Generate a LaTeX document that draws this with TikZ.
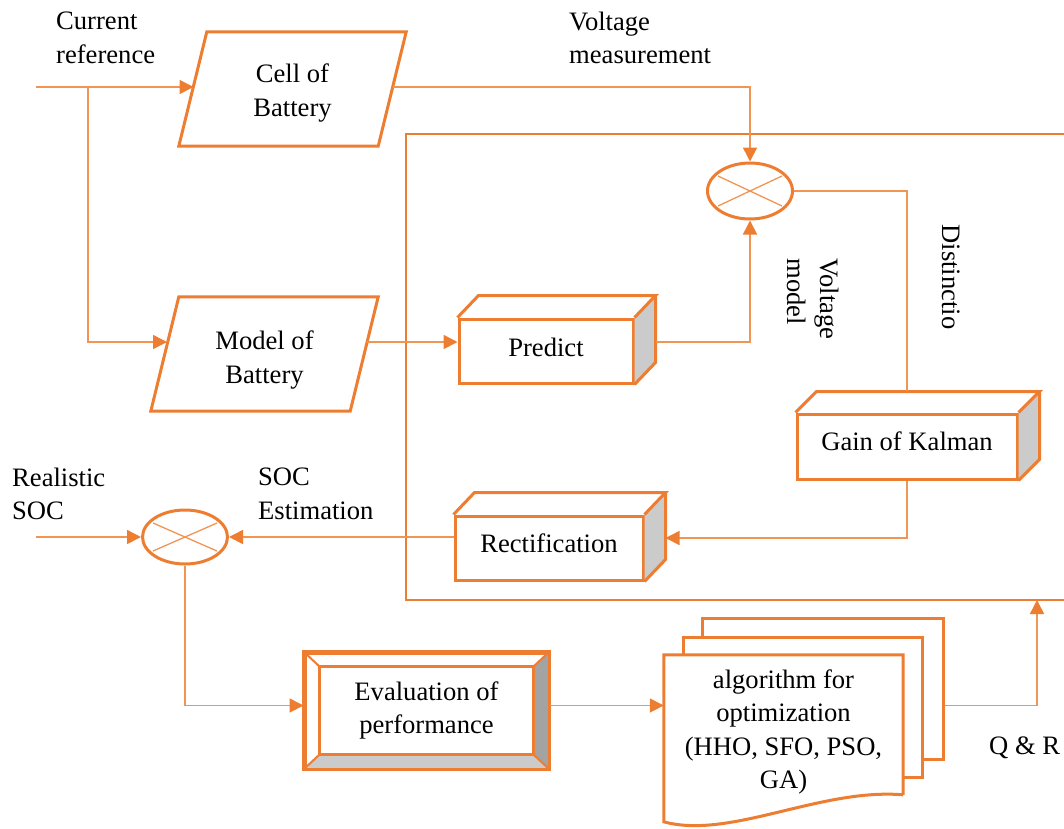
\documentclass[tikz,border=0pt]{standalone}
\usepackage{fontspec}
\setmainfont{Liberation Serif}
\usetikzlibrary{arrows.meta,calc,shapes.geometric}
\definecolor{edgeor}{HTML}{ED7D31}
\definecolor{lineor}{HTML}{F19555}
\definecolor{sidegray}{HTML}{CBCBCB}
\definecolor{bevelgray}{HTML}{A3A3A3}
% 3-D box: top and right faces added to a front-face node
\newcommand\boxfaces[3]{%
  \fill[sidegray] (#1.north east) -- ++(#2,-#3) -- ($(#1.south east)+(#2,-#3)$) -- (#1.south east) -- cycle;
  \draw[edge] (#1.north west) -- ++(#2,-#3) -- ($(#1.north east)+(#2,-#3)$) -- (#1.north east);
  \draw[edge] ($(#1.north east)+(#2,-#3)$) -- ($(#1.south east)+(#2,-#3)$) -- (#1.south east);
}
% slanted input/output block drawn over a plain node
\newcommand\slantbox[2]{%
  \draw[edge] ($(#1.north west)+(#2,0)$) -- (#1.north east) -- ($(#1.south east)+(-#2,0)$) -- (#1.south west) -- cycle;
}
% shift text vertically without changing the box it occupies
\newcommand\nudge[2]{\raisebox{#1}[\height][\depth]{#2}}
\newcommand\twolines[3]{\nudge{#1}{\begin{tabular}{@{}c@{}}#2\\#3\end{tabular}}}
\begin{document}
\begin{tikzpicture}[x=1pt,y=-1pt,
  txt/.style={font=\fontsize{26.6}{33.5}\selectfont, align=center, inner sep=0pt},
  lbl/.style={txt, align=left},
  edge/.style={draw=edgeor, line width=3pt, line join=miter},
  thinedge/.style={draw=edgeor, line width=1.6pt},
  wire/.style={draw=lineor, line width=1.6pt},
  arr/.style={wire, -{Triangle[length=14pt,width=14pt,color=edgeor]}},
  front/.style={txt, edge, fill=white},
  junction/.style={edge, ellipse, inner sep=0pt, fill=white}]
\useasboundingbox (0,0) rectangle (1064,828);

% outer estimator frame (runs past the right border)
\coordinate (frameTR) at (1064,134);
\coordinate (frameTL) at (406,134);
\coordinate (frameBL) at (406,600);
\coordinate (frameBR) at (1064,600);
\draw[thinedge] (frameTR) -- (frameTL) -- (frameBL) -- (frameBR);

% battery blocks
\node[txt, minimum width=227, minimum height=114] (cell) at (292.5,89) {\twolines{-4pt}{Cell of}{Battery}};
\slantbox{cell}{28}
\node[txt, minimum width=227, minimum height=114] (model) at (264.5,354) {\twolines{-6pt}{Model of}{Battery}};
\slantbox{model}{28}

% 3-D boxes
\node[front, minimum width=174, minimum height=64] (predict) at (546,351) {\nudge{4pt}{Predict}};
\boxfaces{predict}{21}{22}
\node[front, minimum width=220, minimum height=65] (gain) at (907,446.5) {\nudge{5pt}{Gain of Kalman}};
\boxfaces{gain}{21}{21}
\node[front, minimum width=188, minimum height=64] (rect) at (549,548) {\nudge{5pt}{Rectification}};
\boxfaces{rect}{21}{22}

% summing junctions
\node[junction, minimum width=85, minimum height=56] (sumv) at (750,191) {};
\draw[wire, line width=1.3pt] ($(sumv)+(-32,-15)$) -- ($(sumv)+(32,15)$);
\draw[wire, line width=1.3pt] ($(sumv)+(-32,15)$) -- ($(sumv)+(32,-15)$);
\node[junction, minimum width=85, minimum height=54] (sums) at (185,537) {};
\draw[wire, line width=1.3pt] ($(sums)+(-32,-14)$) -- ($(sums)+(32,14)$);
\draw[wire, line width=1.3pt] ($(sums)+(-32,14)$) -- ($(sums)+(32,-14)$);

% bevelled evaluation block
\node[txt, edge, minimum width=243, minimum height=115] (eval) at (426.5,710.5) {Evaluation of\\performance};
\coordinate (inNW) at ($(eval.north west)+(16,15)$);
\coordinate (inNE) at ($(eval.north east)+(-16,15)$);
\coordinate (inSW) at ($(eval.south west)+(16,-15)$);
\coordinate (inSE) at ($(eval.south east)+(-16,-15)$);
\fill[bevelgray] (eval.north east) -- (eval.south east) -- (inSE) -- (inNE) -- cycle;
\fill[sidegray] (eval.south west) -- (eval.south east) -- (inSE) -- (inSW) -- cycle;
\draw[edge, line width=2pt] (eval.north west) -- (inNW) (eval.north east) -- (inNE)
  (eval.south west) -- (inSW) (eval.south east) -- (inSE);
\draw[edge] (inNW) rectangle (inSE);
\draw[edge] (eval.north west) rectangle (eval.south east);

% stacked optimisation documents
\node[edge, fill=white, minimum width=241, minimum height=141, inner sep=0pt] (doc3) at (822.5,688.5) {};
\node[edge, fill=white, minimum width=239, minimum height=140, inner sep=0pt] (doc2) at (802.5,707) {};
\node[txt, fill=white, minimum width=239, minimum height=154] (doc1) at (783.5,732)
  {algorithm for\\optimization\\(HHO, SFO, PSO,\\GA)};
\draw[edge] ($(doc1.north east)+(0,140)$) -- (doc1.north east) -- (doc1.north west)
  -- ($(doc1.north west)+(0,167)$)
  .. controls ($(doc1.north west)+(66,185)$) and ($(doc1.north east)+(-83,133)$) .. ($(doc1.north east)+(0,140)$);

% labels
\node[lbl, anchor=west] (curlbl) at (56,38) {Current\\reference};
\node[lbl, anchor=west] (vmlbl) at (569,38) {Voltage\\measurement};
\node[lbl, rotate=-90] (vmodel) at (813,299) {Voltage\\model};
\node[txt, rotate=-90] (dist) at (951,277) {Distinctio};
\node[lbl, anchor=west] (reallbl) at (12,494) {Realistic\\SOC};
\node[lbl, anchor=west] (soclbl) at (258,494) {SOC\\Estimation};
\node[txt, anchor=west] (qrlbl) at (989,748) {Q \& R};

% connectors
\coordinate (cur) at (36,87);
\coordinate (split) at (88,87);
\coordinate (cellin) at (193.5,87);
\coordinate (cellout) at (392.5,87);
\coordinate (modelin) at (167,342);
\coordinate (modelout) at (367,342);
\coordinate (realin) at (36,537);
\coordinate (qr) at (1037,600);
\coordinate (evalout) at ($(eval.east)+(0,-5)$);

\draw[arr] (cur) -- (cellin);
\draw[arr] (split) |- (modelin);
\draw[arr] (modelout) -- (modelout -| predict.west);
\draw[arr] ($(predict.east)+(21,-9)$) -| (sumv.south);
\draw[arr] (cellout) -| (sumv.north);
\draw[wire] (sumv.east) -| ($(gain.north)+(0,-22)$);
\draw[arr] (gain.south) |- ($(rect.east)+(21,-10)$);
\draw[arr] (sums.east -| rect.west) -- (sums.east);
\draw[arr] (realin) -- (sums.west);
\draw[arr] (sums.south) |- ($(eval.west)+(0,-5)$);
\draw[arr] (evalout) -- (evalout -| doc1.west);
\draw[arr] (evalout -| doc3.east) -| (qr);
\end{tikzpicture}
\end{document}
